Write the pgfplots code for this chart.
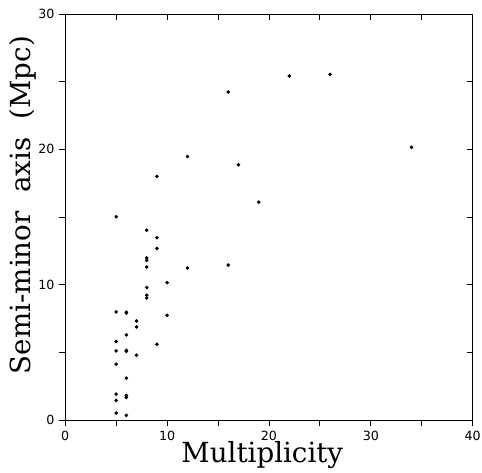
\documentclass[border=0pt]{standalone}
\usepackage{fontspec}
\setmainfont{DejaVu Serif}
\newfontfamily\tickfont{DejaVu Sans}
\usepackage{pgfplots}
\pgfplotsset{compat=1.18}
\pgfplotstableread{
x y
5 15.02
5 7.99
5 5.80
5 5.11
5 4.13
5 1.92
5 1.45
5 0.52
6 7.97
6 7.91
6 6.29
6 5.15
6 5.07
6 3.10
6 1.82
6 1.67
6 0.35
7 7.32
7 6.88
7 4.79
8 14.03
8 11.98
8 11.80
8 11.31
8 9.79
8 9.22
8 9.02
9 18.00
9 13.47
9 12.68
9 5.60
10 10.15
10 7.74
12 19.47
12 11.23
16 24.24
16 11.45
17 18.86
19 16.10
22 25.42
26 25.54
34 20.15
}\datatable
\begin{document}
\begin{tikzpicture}
\pgfplotsset{
  common/.style={
    width=306pt, height=305pt, scale only axis,
    xmin=0, xmax=40, ymin=0, ymax=30,
    xtick={0,10,20,30,40}, ytick={0,10,20,30},
    minor xtick={5,15,25,35}, minor ytick={5,15,25},
    major tick length=4.5pt, minor tick length=4.5pt,
    tick style={black, line width=0.6pt},
    axis line style={line width=0.6pt},
  }
}
\begin{axis}[common,
    tick align=outside, xtick pos=left, ytick pos=left,
    /pgf/number format/assume math mode=true,
    ticklabel style={font=\tickfont\fontsize{9.5}{11}\selectfont},
    xlabel={Multiplicity},
    ylabel={Semi-minor\hspace{0.35em} axis\hspace{0.35em} (Mpc)},
    label style={font=\fontsize{20.8}{24}\selectfont},
    xlabel style={yshift=6pt, xshift=-5pt},
    ylabel style={yshift=-5pt, xshift=9pt},
  ]
\addplot[only marks, mark=*, mark size=1.15pt, black] table {\datatable};
\coordinate (ll) at (rel axis cs:0,0);
\coordinate (ur) at (rel axis cs:1,1);
\end{axis}
\begin{axis}[common,
    tick align=inside, xtick pos=right, ytick pos=right,
    xticklabels={}, yticklabels={},
  ]
\end{axis}
\pgfresetboundingbox
\useasboundingbox ([shift={(-49pt,-39pt)}]ll) rectangle ([shift={(7pt,10.5pt)}]ur);
\end{tikzpicture}
\end{document}
